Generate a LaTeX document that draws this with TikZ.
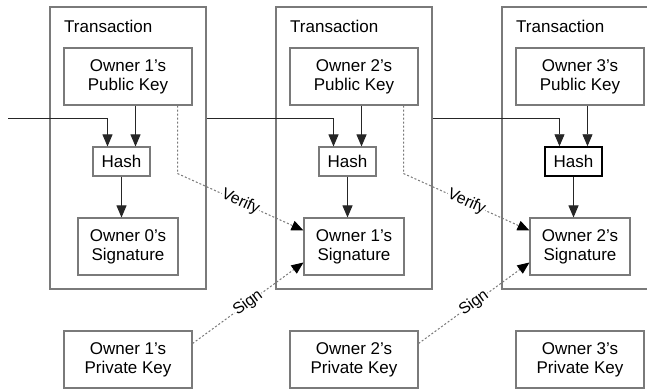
\documentclass[tikz,border=0pt]{standalone}
\usepackage{fontspec}
\setmainfont{Liberation Sans}
\usetikzlibrary{arrows.meta,positioning}
\definecolor{boxgray}{HTML}{7A7A7A}
\definecolor{dotgray}{HTML}{7A7A7A}
\tikzset{
  txbox/.style={draw=boxgray, line width=1.1pt, minimum width=156pt, minimum height=282pt, inner sep=0pt},
  keybox/.style={draw=boxgray, line width=1.1pt, fill=white, minimum width=128pt, minimum height=57pt, inner sep=0pt, align=center, font=\fontsize{17}{19}\selectfont},
  sigbox/.style={keybox, minimum width=100pt},
  hashbox/.style={draw=boxgray, line width=1.1pt, fill=white, minimum width=57pt, minimum height=29pt, inner sep=0pt, font=\fontsize{17}{19}\selectfont},
  txlabel/.style={anchor=base west, inner sep=0pt, font=\fontsize{17}{19}\selectfont},
  flow/.style={draw=black!85, line width=0.9pt, -{Triangle[length=12pt,width=10pt]}},
  dotflow/.style={draw=dotgray, line width=1pt, dash pattern=on 2pt off 2pt, -{Triangle[length=12pt,width=10pt,fill=black,color=black]}},
  edgelabel/.style={sloped, fill=white, inner sep=0.5pt, font=\fontsize{16}{18}\selectfont}
}
\begin{document}
\begin{tikzpicture}[x=1pt,y=-1pt]
\useasboundingbox (0,0) rectangle (647,389);
\clip (0,0) rectangle (647,389);
\fill[white] (0,0) rectangle (647,389);
\foreach \i/\dx in {1/0,2/226,3/452}{
  \node[txbox] (tx\i) at (128+\dx,148) {};
  \node[txlabel] (tl\i) at (64+\dx,32) {Transaction};
}
% column 1
\node[keybox] (pk1) at (128,76.5) {Owner 1's\\Public Key};
\node[hashbox] (h1) at (121.5,161.5) {Hash};
\node[sigbox] (s1) at (128,246.5) {Owner 0's\\Signature};
\node[keybox] (p1) at (128,359.5) {Owner 1's\\Private Key};
% column 2
\node[keybox] (pk2) at (354,76.5) {Owner 2's\\Public Key};
\node[hashbox] (h2) at (347.5,161.5) {Hash};
\node[sigbox] (s2) at (354,246.5) {Owner 1's\\Signature};
\node[keybox] (p2) at (354,359.5) {Owner 2's\\Private Key};
% column 3
\node[keybox] (pk3) at (580,76.5) {Owner 3's\\Public Key};
\node[hashbox, draw=black, line width=1.5pt] (h3) at (573.5,161.5) {Hash};
\node[sigbox] (s3) at (580,246.5) {Owner 2's\\Signature};
\node[keybox] (p3) at (580,359.5) {Owner 3's\\Private Key};
\coordinate (in1) at (8,118.5);
% hash inputs
\draw[flow] (in1) -| ([xshift=-14pt]h1.north);
\draw[flow] (tx1.east |- in1) -| ([xshift=-14pt]h2.north);
\draw[flow] (tx2.east |- in1) -| ([xshift=-14pt]h3.north);
\foreach \i in {1,2,3}{
  \draw[flow] ([xshift=14pt]h\i.north |- pk\i.south) -- ([xshift=14pt]h\i.north);
  \draw[flow] (h\i.south) -- (h\i.south |- s\i.north);
}
% verify
\draw[dotflow] ([xshift=-15pt]pk1.south east) -- ++(0,68) coordinate (v1)
  -- node[edgelabel, pos=0.5] {Verify} ([yshift=16pt]s2.west);
\draw[dotflow] ([xshift=-15pt]pk2.south east) -- ++(0,68) coordinate (v2)
  -- node[edgelabel, pos=0.5] {Verify} ([yshift=16pt]s3.west);
% sign
\draw[dotflow] ([yshift=16pt]p1.east) -- node[edgelabel, pos=0.5] {Sign} ([yshift=-16pt]s2.west);
\draw[dotflow] ([yshift=16pt]p2.east) -- node[edgelabel, pos=0.5] {Sign} ([yshift=-16pt]s3.west);
\end{tikzpicture}
\end{document}
